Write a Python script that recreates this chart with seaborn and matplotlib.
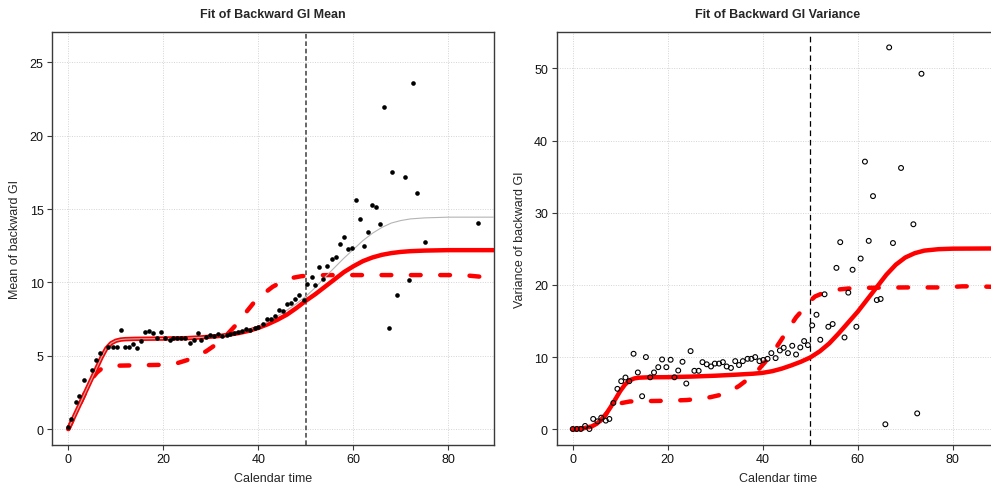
import matplotlib
matplotlib.use("Agg")
import matplotlib.pyplot as plt
import seaborn as sns
import pandas as pd

# ---------------- observed backward GI statistics ----------------
mean_time = [0, 0.6, 1.6, 2.3, 3.4, 5.05, 5.9, 6.7, 8.3, 9.3, 10.2, 11.0, 11.9, 12.8,
             13.6, 14.5, 15.3, 16.1, 17.05, 17.9, 18.7, 19.6, 20.4, 21.3, 22.1, 22.9,
             23.8, 24.6, 25.6, 26.4, 27.2, 28.0, 28.9, 29.8, 30.6, 31.6, 32.4, 33.3,
             34.1, 34.9, 35.8, 36.6, 37.5, 38.3, 39.2, 40.0, 40.9, 41.8, 42.6, 43.5,
             44.3, 45.1, 46.0, 46.9, 47.7, 48.6, 49.5, 50.3, 51.2, 52.0, 52.8, 53.7,
             54.5, 55.4, 56.3, 57.1, 58.0, 58.8, 59.7, 60.5, 61.3, 62.2, 63.0, 63.9,
             64.8, 65.6, 66.5, 67.4, 68.2, 69.1, 70.8, 71.7, 72.5, 73.3, 75.0, 86.2]
mean_obs = [0.11, 0.68, 1.84, 2.26, 3.35, 4.03, 4.7, 5.21, 5.61, 5.6, 5.6, 6.77, 5.6, 5.6,
            5.83, 5.52, 5.98, 6.61, 6.68, 6.54, 6.23, 6.61, 6.23, 6.07, 6.2, 6.23,
            6.23, 6.2, 5.86, 6.05, 6.54, 6.08, 6.3, 6.42, 6.34, 6.48, 6.32, 6.4,
            6.48, 6.54, 6.6, 6.7, 6.8, 6.72, 6.86, 6.95, 7.16, 7.5, 7.5, 7.72,
            8.1, 8.05, 8.5, 8.57, 8.86, 9.14, 8.8, 9.89, 10.36, 9.83, 11.06, 10.22,
            11.11, 11.59, 11.72, 12.61, 13.09, 12.27, 12.34, 15.61, 14.31, 12.47, 13.43, 15.27,
            15.13, 13.97, 21.95, 6.91, 17.52, 9.13, 17.18, 10.16, 23.59, 16.09, 12.75, 14.04]

var_time = [0, 0.84, 1.7, 2.6, 3.5, 4.3, 5.2, 6.0, 6.95, 7.7, 8.55, 9.4, 10.2, 11.1,
            11.9, 12.8, 13.7, 14.6, 15.4, 16.3, 17.1, 18.0, 18.8, 19.7, 20.6, 21.4,
            22.2, 23.1, 23.9, 24.8, 25.6, 26.5, 27.3, 28.2, 29.1, 29.9, 30.8, 31.6,
            32.4, 33.3, 34.2, 35.0, 35.8, 36.8, 37.6, 38.4, 39.3, 40.1, 41.0, 41.8,
            42.7, 43.6, 44.4, 45.3, 46.2, 47.0, 47.9, 48.7, 49.5, 50.4, 51.3, 52.1,
            53.0, 53.8, 54.7, 55.5, 56.3, 57.2, 58.0, 58.9, 59.7, 60.6, 61.5, 62.3,
            63.2, 64.0, 64.8, 65.8, 66.6, 67.4, 69.1, 71.7, 72.5, 73.4]
var_obs = [0.04, 0.04, 0.04, 0.46, 0.04, 1.43, 1.1, 1.61, 1.2, 1.43, 3.65, 5.6, 6.66, 7.17,
           6.66, 10.46, 7.87, 4.58, 10.0, 7.2, 7.87, 8.6, 9.67, 8.6, 9.63, 7.2,
           8.14, 9.35, 6.34, 10.83, 8.1, 8.1, 9.3, 9.0, 8.7, 9.1, 9.1, 9.3,
           8.7, 8.5, 9.44, 8.9, 9.44, 9.76, 9.76, 10.0, 9.44, 9.6, 9.76, 10.55,
           9.86, 10.92, 11.29, 10.55, 11.57, 10.36, 11.34, 12.22, 11.66, 14.39, 15.87, 12.4,
           18.7, 14.2, 14.58, 22.36, 25.92, 12.72, 18.93, 22.1, 14.2, 23.65, 37.08, 26.1,
           32.3, 17.9, 18.05, 0.69, 52.9, 25.8, 36.2, 28.4, 2.2, 49.25]

# ---------------- fitted curves ----------------
mean_fit_t = [0, 1, 2, 3, 4, 5, 6, 7, 8, 9, 10, 11, 12, 14, 20, 25, 28, 30, 32, 34, 36,
              38, 40, 42, 44, 46, 48, 50, 52, 54, 56, 58, 60, 62, 64, 66, 68, 70, 72,
              75, 80, 90]
mean_fit = [0.0, 0.7, 1.4, 2.1, 2.8, 3.5, 4.2, 4.9, 5.5, 5.85, 6.02, 6.1, 6.13, 6.15,
            6.17, 6.2, 6.25, 6.3, 6.35, 6.45, 6.55, 6.7, 6.9, 7.15, 7.45, 7.8, 8.25,
            8.75, 9.2, 9.7, 10.2, 10.7, 11.1, 11.45, 11.7, 11.88, 12.0, 12.08, 12.13,
            12.17, 12.2, 12.2]

mean_ref_t = [0, 1, 2, 3, 4, 5, 6, 7, 8, 9, 10, 11, 12, 14, 20, 25, 28, 30, 32, 34, 36,
              38, 40, 42, 44, 46, 48, 50, 52, 54, 56, 58, 60, 62, 64, 66, 68, 70, 72,
              75, 80, 90]
mean_ref = [0.0, 0.7, 1.4, 2.1, 2.8, 3.5, 4.2, 4.9, 5.5, 5.85, 6.02, 6.1, 6.13, 6.15,
            6.17, 6.2, 6.25, 6.3, 6.36, 6.46, 6.58, 6.75, 6.95, 7.3, 7.7, 8.1, 8.55,
            9.05, 9.65, 10.35, 11.0, 11.65, 12.25, 12.85, 13.35, 13.75, 14.05, 14.22,
            14.33, 14.4, 14.45, 14.45]

mean_alt_t = [0, 2, 4, 5, 6, 7, 8, 10, 15, 20, 23, 25, 27, 29, 31, 33, 35, 37, 39, 41,
              43, 45, 47, 49, 51, 55, 80, 84, 87, 90]
mean_alt = [0.0, 1.4, 2.8, 3.45, 3.85, 4.12, 4.25, 4.32, 4.35, 4.38, 4.5, 4.7, 5.0,
            5.3, 5.75, 6.3, 7.0, 7.8, 8.6, 9.2, 9.7, 10.05, 10.3, 10.42, 10.48, 10.5,
            10.5, 10.47, 10.38, 10.3]

var_fit_t = [0, 2, 4, 5, 6, 7, 8, 9, 10, 11, 12, 13, 14, 16, 20, 25, 30, 34, 38, 40, 42,
             44, 46, 48, 50, 52, 54, 56, 58, 60, 62, 64, 66, 68, 70, 72, 74, 77, 80, 90]
var_fit = [0.0, 0.1, 0.4, 0.75, 1.3, 2.1, 3.1, 4.2, 5.3, 6.2, 6.8, 7.05, 7.15, 7.2,
           7.22, 7.3, 7.42, 7.55, 7.7, 7.82, 8.05, 8.4, 8.85, 9.35, 9.95, 10.8, 11.9,
           13.3, 14.8, 16.3, 18.0, 19.7, 21.4, 22.8, 23.8, 24.4, 24.75, 24.95, 25.02,
           25.05]

var_alt_t = [0, 2, 4, 5, 6, 7, 8, 9, 10, 12, 15, 20, 24, 27, 29, 31, 33, 35, 37, 39, 41,
             43, 45, 47, 49, 50, 51, 53, 55, 58, 62, 70, 78, 82, 85, 90]
var_alt = [0.0, 0.1, 0.4, 0.75, 1.3, 2.1, 3.1, 3.4, 3.6, 3.85, 3.9, 3.95, 4.05, 4.25,
           4.45, 4.75, 5.2, 6.0, 7.0, 8.2, 9.7, 11.5, 13.5, 15.5, 17.0, 17.8, 18.4,
           18.95, 19.3, 19.5, 19.6, 19.65, 19.65, 19.8, 19.8, 19.7]

cutoff_time = 50

mean_ticks = [0, 5, 10, 15, 20, 25]
var_ticks = [0, 10, 20, 30, 40, 50]
time_ticks = [0, 20, 40, 60, 80]

# ---------------- styling ----------------
sns.set_theme(style="white")
plt.rcParams["font.family"] = ["Liberation Sans", "DejaVu Sans"]
plt.rcParams["font.size"] = 9

fig = plt.figure(figsize=(9.91, 4.89), dpi=100)
ax1 = fig.add_axes([0.0528, 0.0885, 0.4457, 0.8435])
ax2 = fig.add_axes([0.5618, 0.0885, 0.4457, 0.8435])

RED = "#ff0000"
LW = 3.2


def style_axes(ax, yticks, ylim, ylabel, title):
    ax.set_xlim(-3.37, 89.6)
    ax.set_ylim(*ylim)
    ax.set_xticks(time_ticks)
    ax.set_yticks(yticks)
    ax.grid(True, color="#d4d4d4", linestyle=(0, (1, 1.5)), linewidth=0.7)
    ax.set_axisbelow(True)
    for sp in ax.spines.values():
        sp.set_color("#3a3a3a")
        sp.set_linewidth(1.0)
    ax.tick_params(axis="both", direction="out", length=3.8, width=0.8,
                   color="#3a3a3a", labelsize=9, pad=2.5, labelcolor="#111111",
                   bottom=True, left=True)
    ax.set_xlabel("Calendar time", fontsize=9, labelpad=5)
    ax.set_ylabel(ylabel, fontsize=9, labelpad=6)
    ax.set_title(title, fontsize=9, fontweight="bold", pad=11)


def curve(ax, t, v, **kw):
    df = pd.DataFrame({"t": t, "v": v})
    sns.lineplot(data=df, x="t", y="v", ax=ax, estimator=None, sort=False,
                 legend=False, **kw)


# ---- left panel: mean ----
curve(ax1, mean_fit_t, mean_fit, color=RED, linewidth=LW,
      solid_capstyle="round", zorder=3)
curve(ax1, mean_ref_t, mean_ref, color="#b4b4b4", linewidth=0.8, zorder=4)
curve(ax1, mean_alt_t, mean_alt, color=RED, linewidth=LW,
      linestyle=(0, (2.2, 4.4)), dash_capstyle="round", zorder=3)
sns.scatterplot(x=mean_time, y=mean_obs, ax=ax1, color="black", s=11,
                linewidth=0, zorder=5)
ax1.axvline(cutoff_time, color="#666666", linewidth=1.4,
            linestyle=(0, (2.4, 1.4)), zorder=2)
style_axes(ax1, mean_ticks, (-1.07, 27.06), "Mean of backward GI",
           "Fit of Backward GI Mean")

# ---- right panel: variance ----
curve(ax2, var_fit_t, var_fit, color=RED, linewidth=LW,
      solid_capstyle="round", zorder=3)
curve(ax2, var_alt_t, var_alt, color=RED, linewidth=LW,
      linestyle=(0, (2.2, 4.4)), dash_capstyle="round", zorder=3)
sns.scatterplot(x=var_time, y=var_obs, ax=ax2, facecolor="none",
                edgecolor="black", s=12, linewidth=0.8, zorder=5)
ax2.axvline(cutoff_time, color="black", linewidth=0.9,
            linestyle=(0, (4.5, 3.0)), zorder=2)
style_axes(ax2, var_ticks, (-2.14, 55.0), "Variance of backward GI",
           "Fit of Backward GI Variance")

fig.savefig("out.png", dpi=100)
